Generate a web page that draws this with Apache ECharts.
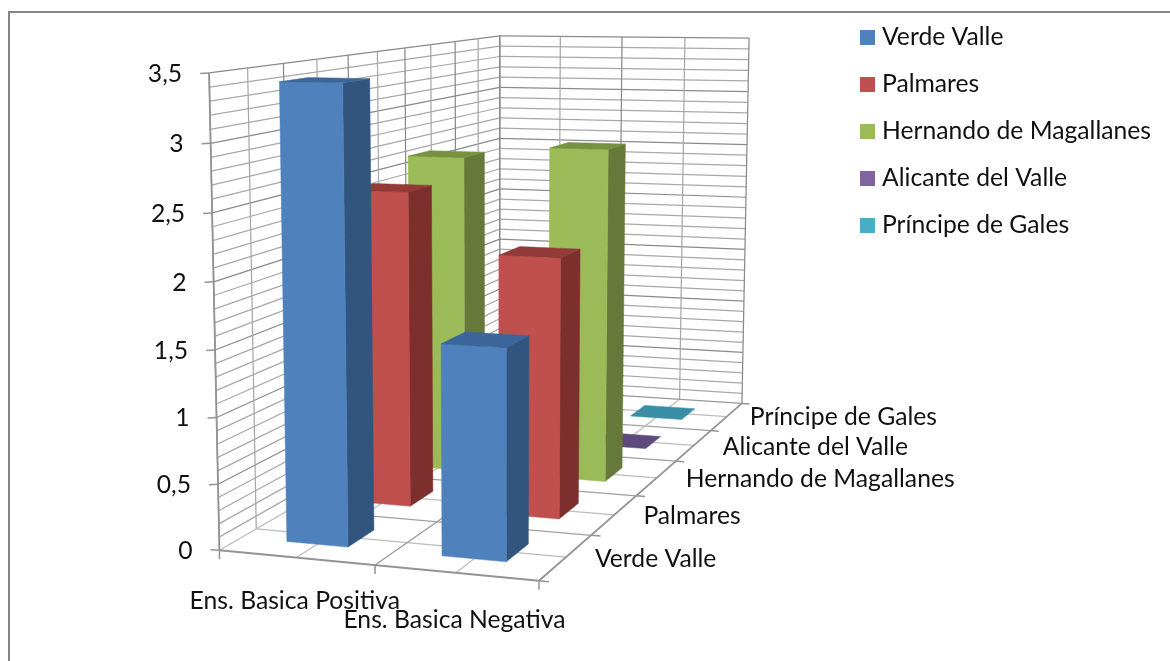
<!DOCTYPE html>
<html><head><meta charset="utf-8">
<style>html,body{margin:0;padding:0;background:#fff}#c{width:1170px;height:661px}</style>
<script src="https://cdn.jsdelivr.net/npm/echarts@6/dist/echarts.min.js"></script>
</head><body><div id="c"></div>
<script>
const categories = ['Ens. Basica Positiva', 'Ens. Basica Negativa'];
const seriesNames = ['Verde Valle', 'Palmares', 'Hernando de Magallanes', 'Alicante del Valle', 'Príncipe de Gales'];
const verdeValle = [3.42, 1.57];
const palmares = [2.5, 2.04];
const hernando = [2.65, 2.75];
const alicante = [0, 0];
const principe = [0, 0];
const seriesValues = [verdeValle, palmares, hernando, alicante, principe];
const yTickLabels = ['0', '0,5', '1', '1,5', '2', '2,5', '3', '3,5'];
const yMax = 3.5;

const faceColors = ['#4f81bd', '#c0504d', '#9bbb59', '#8064a2', '#4bacc6'];
const sideColors = ['#32557f', '#7c2f2d', '#67793a', '#54406e', '#2f7c90'];
const topColors = ['#3c669a', '#933b39', '#76913f', '#5f4a7e', '#3a8ea6'];
const FONT = 'Lato, "Open Sans", sans-serif';
const FS = 24.7;
const TEXT = '#111';

// Camera: fitted from the box corners of the plot (u: category, v: depth, w: value)
const boxCorners = [
  [0, 0, 0, 219.5, 548], [2, 0, 0, 539, 583], [2, 5, 0, 742, 401], [0, 5, 0, 499.5, 390],
  [0, 0, 3.5, 209, 73], [0, 5, 3.5, 500, 35], [2, 5, 3.5, 749, 39]
];
function fitCamera(pts) {
  const rows = [], rhs = [];
  pts.forEach(([u, v, w, x, y]) => {
    const X = x / 1000, Y = y / 1000;
    rows.push([u, v, w, 1, 0, 0, 0, 0, -X * u, -X * v, -X * w]); rhs.push(X);
    rows.push([0, 0, 0, 0, u, v, w, 1, -Y * u, -Y * v, -Y * w]); rhs.push(Y);
  });
  const n = 11, M = [];
  for (let i = 0; i < n; i++) {
    M.push(new Array(n + 1).fill(0));
    for (let j = 0; j < n; j++) rows.forEach(r => { M[i][j] += r[i] * r[j]; });
    rows.forEach((r, k) => { M[i][n] += r[i] * rhs[k]; });
  }
  for (let i = 0; i < n; i++) {
    let p = i;
    for (let k = i + 1; k < n; k++) if (Math.abs(M[k][i]) > Math.abs(M[p][i])) p = k;
    [M[i], M[p]] = [M[p], M[i]];
    for (let k = 0; k < n; k++) if (k !== i) {
      const f = M[k][i] / M[i][i];
      for (let j = i; j <= n; j++) M[k][j] -= f * M[i][j];
    }
  }
  return M.map((r, i) => r[n] / r[i]);
}
const cam = fitCamera(boxCorners);
function project(u, v, w) {
  const d = cam[8] * u + cam[9] * v + cam[10] * w + 1;
  return [1000 * (cam[0] * u + cam[1] * v + cam[2] * w + cam[3]) / d,
          1000 * (cam[4] * u + cam[5] * v + cam[6] * w + cam[7]) / d];
}

const BAR = 0.4; // gap width / gap depth of 150%

function seg(api, a, b, color, width) {
  const p = api.coord(a), q = api.coord(b);
  return { type: 'line', shape: { x1: p[0], y1: p[1], x2: q[0], y2: q[1] },
    style: { stroke: color, lineWidth: width, fill: null } };
}
function poly(api, pts, color) {
  return { type: 'polygon', shape: { points: pts.map(p => api.coord(p)) },
    style: { fill: color, stroke: color, lineWidth: 0.5 } };
}
function label(api, pt, text, align, size) {
  const p = api.coord(pt);
  return { type: 'text', x: p[0], y: p[1],
    style: { text, fill: TEXT, font: size + 'px ' + FONT, align, verticalAlign: 'middle' } };
}

function renderWalls(params, api) {
  const kids = [];
  const MAJ = '#8a8a8a', MIN = '#a8a8a8', FL = '#bcbcbc';
  const LW = 1.25;
  for (let i = 1; i <= 35; i++) {
    const w = i / 10, col = i % 5 === 0 ? MAJ : MIN;
    kids.push(seg(api, project(0, 0, w), project(0, 5, w), col, LW));
    kids.push(seg(api, project(0, 5, w), project(2, 5, w), col, LW));
  }
  for (let i = 0; i <= 10; i++) {
    const v = i / 2, col = i % 2 === 0 ? MAJ : MIN;
    kids.push(seg(api, project(0, v, 0), project(0, v, yMax), col, LW));
    if (i > 0 && i < 10) kids.push(seg(api, project(0, v, 0), project(2, v, 0), i % 2 === 0 ? '#a0a0a0' : FL, LW));
  }
  for (let i = 0; i <= 4; i++) {
    const u = i / 2, col = i % 2 === 0 ? MAJ : MIN;
    kids.push(seg(api, project(u, 5, 0), project(u, 5, yMax), col, LW));
    if (i > 0 && i < 4) kids.push(seg(api, project(u, 0, 0), project(u, 5, 0), i % 2 === 0 ? '#989898' : FL, LW));
  }
  kids.push(seg(api, project(0, 5, 0), project(2, 5, 0), '#989898', LW));
  kids.push(seg(api, project(0, 0, 0), project(0, 5, 0), '#bcbcbc', LW));
  return { type: 'group', children: kids };
}

function renderAxes(params, api) {
  const kids = [];
  const AX = '#949494';
  kids.push(seg(api, project(0, 0, 0), project(2, 0, 0), AX, 1.8));
  kids.push(seg(api, project(2, 0, 0), project(2, 5, 0), AX, 1.8));
  kids.push(seg(api, project(0, 0, 0), project(0, 0, yMax), AX, 1.8));
  yTickLabels.forEach((t, i) => {
    const p = project(0, 0, i * 0.5);
    kids.push(seg(api, p, [p[0] - 9, p[1] + 0.5 - (i === 0 ? 1 : 0)], AX, 1.5));
    kids.push(label(api, [p[0] - 27, p[1] + 1], t, 'right', FS));
  });
  categories.forEach((c, i) => {
    const p = project(i, 0, 0);
    kids.push(seg(api, p, [p[0], p[1] + 9], AX, 1.5));
    const m = project(i + 0.5, 0, 0);
    kids.push(label(api, [m[0] - 1.5, m[1] + 43 + 4 * i], c, 'center', FS));
  });
  const e = project(2, 0, 0);
  kids.push(seg(api, e, [e[0], e[1] + 9], AX, 1.5));
  for (let i = 0; i <= 5; i++) {
    const p = project(2, i, 0), q = project(2.06, i, 0);
    kids.push(seg(api, p, q, AX, 1.5));
  }
  seriesNames.forEach((s, i) => {
    const p = project(2, i + 0.5, 0);
    kids.push(label(api, [p[0] + (i === 4 ? 23 : 29), p[1] + (i === 4 ? 0.5 : 1.5)], s, 'left', FS));
  });
  return { type: 'group', children: kids };
}

function renderBar(sIdx) {
  return function (params, api) {
    const i = api.value(0), h = api.value(1);
    const v = sIdx + 0.5 - BAR / 2, u = i + 0.5 - BAR / 2;
    const P = (du, dv, w) => project(u + du * BAR, v + dv * BAR, w);
    const kids = [];
    if (h > 0) {
      kids.push(poly(api, [P(1, 0, 0), P(1, 1, 0), P(1, 1, h), P(1, 0, h)], sideColors[sIdx]));
      kids.push(poly(api, [P(0, 0, 0), P(1, 0, 0), P(1, 0, h), P(0, 0, h)], faceColors[sIdx]));
    }
    kids.push(poly(api, [P(0, 0, h), P(1, 0, h), P(1, 1, h), P(0, 1, h)], topColors[sIdx]));
    return { type: 'group', children: kids };
  };
}

const barSeries = seriesNames.map((name, s) => ({
  type: 'custom', name, coordinateSystem: 'cartesian2d', clip: false, silent: true,
  itemStyle: { color: faceColors[s] },
  renderItem: renderBar(s),
  data: categories.map((c, i) => [i, seriesValues[s][i]])
})).reverse();

const chart = echarts.init(document.getElementById('c'), null, { renderer: 'canvas' });
chart.setOption({
  animation: false,
  backgroundColor: '#fff',
  grid: { left: 0, right: 0, top: 0, bottom: 0 },
  xAxis: { type: 'value', min: 0, max: 1170, show: false },
  yAxis: { type: 'value', min: 0, max: 661, inverse: true, show: false },
  legend: {
    data: seriesNames, orient: 'vertical', left: 860, top: 25, padding: 0, icon: 'rect',
    itemWidth: 15, itemHeight: 15, itemGap: 22, selectedMode: false,
    textStyle: { fontFamily: FONT, fontSize: FS, color: TEXT, lineHeight: 25, padding: [0, 0, 0, 2] }
  },
  graphic: [{
    type: 'polyline', silent: true, z: 100,
    shape: { points: [[9, 661], [9, 12], [1170, 12]] },
    style: { stroke: '#868686', lineWidth: 2, fill: null }
  }],
  series: [
    { type: 'custom', name: 'walls', coordinateSystem: 'cartesian2d', clip: false, silent: true, renderItem: renderWalls, data: [[0, 0]] },
    { type: 'custom', name: 'axes', coordinateSystem: 'cartesian2d', clip: false, silent: true, renderItem: renderAxes, data: [[0, 0]] },
    ...barSeries
  ]
});
</script></body></html>
